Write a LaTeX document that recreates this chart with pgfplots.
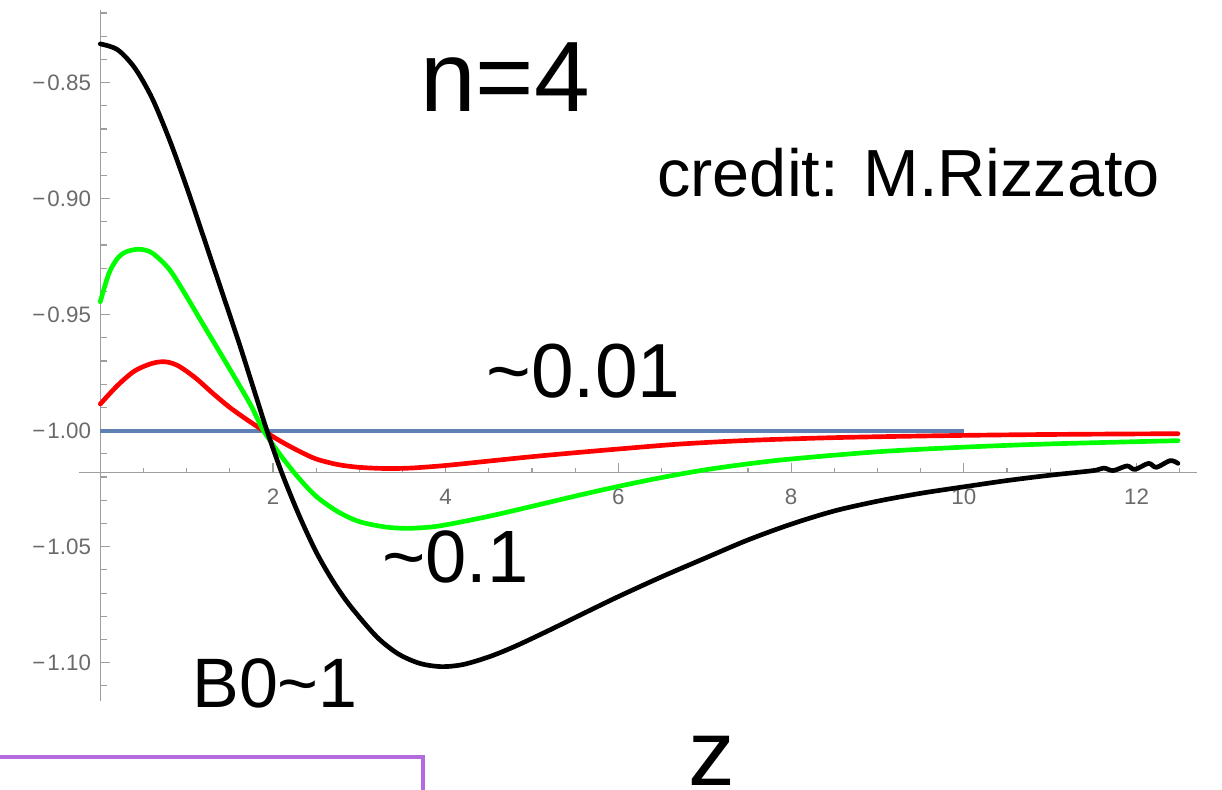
\documentclass[border=0pt]{standalone}
\usepackage{pgfplots}
\pgfplotsset{compat=1.18}
\usepackage{fontspec}
\setmainfont{Liberation Sans}

\definecolor{mmablue}{rgb}{0.368417,0.506779,0.709798}
\definecolor{axgray}{gray}{0.62}
\definecolor{lblgray}{gray}{0.42}
\definecolor{boxpurple}{RGB}{178,108,224}

\newcommand{\mminus}{−\kern1.2pt}

\begin{document}
\begin{tikzpicture}[x=0.6pt,y=0.6pt]
\path[use as bounding box] (0,0) rectangle (1222,790);
\begin{axis}[
  at={(47.226pt,53.412pt)}, anchor=south west,
  scale only axis, width=671.22pt, height=414.84pt,
  xmin=-0.25, xmax=12.705, ymin=-1.1165, ymax=-0.8185,
  axis lines=none, clip=false,
  every axis plot/.append style={line width=2.8pt, line join=round, line cap=round},
]
% axis lines crossing at (0,-1.0181)
\draw[axgray, line width=0.8pt] (axis cs:-0.25,-1.0181) -- (axis cs:12.705,-1.0181);
\draw[axgray, line width=0.8pt] (axis cs:0,-1.1165) -- (axis cs:0,-0.8185);
% x ticks
\pgfplotsinvokeforeach{0.5,1,1.5,2.5,3,3.5,4.5,5,5.5,6.5,7,7.5,8.5,9,9.5,10.5,11,11.5,12.5}{
  \draw[axgray, line width=0.7pt] (axis cs:#1,-1.0181) -- ++(0pt,3pt);
}
\pgfplotsinvokeforeach{2,4,6,8,10,12}{
  \draw[axgray, line width=0.7pt] (axis cs:#1,-1.0181) -- ++(0pt,6pt);
  \node[lblgray, anchor=base, inner sep=0pt, font=\fontsize{13.4}{14}\selectfont]
    at (axis cs:#1,-1.0181) [yshift=-19.2pt] {#1};
}
% y ticks
\pgfplotsinvokeforeach{-0.82,-0.83,-0.84,-0.86,-0.87,-0.88,-0.89,-0.91,-0.92,-0.93,-0.94,-0.96,-0.97,-0.98,-0.99,-1.01,-1.02,-1.03,-1.04,-1.06,-1.07,-1.08,-1.09,-1.11}{
  \draw[axgray, line width=0.7pt] (axis cs:0,#1) -- ++(4pt,0pt);
}
\pgfplotsinvokeforeach{-0.85,-0.90,-0.95,-1.00,-1.05,-1.10}{
  \draw[axgray, line width=0.7pt] (axis cs:0,#1) -- ++(6pt,0pt);
}
\begin{scope}[every node/.style={lblgray, anchor=base east, inner sep=0pt, font=\fontsize{13.4}{14}\selectfont}]
\node at (axis cs:0,-0.85) [xshift=-5.4pt, yshift=-4.7pt] {\mminus0.85};
\node at (axis cs:0,-0.90) [xshift=-5.4pt, yshift=-4.7pt] {\mminus0.90};
\node at (axis cs:0,-0.95) [xshift=-5.4pt, yshift=-4.7pt] {\mminus0.95};
\node at (axis cs:0,-1.00) [xshift=-5.4pt, yshift=-4.7pt] {\mminus1.00};
\node at (axis cs:0,-1.05) [xshift=-5.4pt, yshift=-4.7pt] {\mminus1.05};
\node at (axis cs:0,-1.10) [xshift=-5.4pt, yshift=-4.7pt] {\mminus1.10};
\end{scope}

% reference level
\addplot[mmablue, line width=2.6pt, line cap=butt] coordinates {(0,-1) (10,-1)};

% B0 ~ 0.01
\addplot[red, smooth] coordinates {
(0.00,-0.9885) (0.20,-0.9805) (0.40,-0.9742) (0.60,-0.9710) (0.75,-0.9703)
(0.90,-0.9720) (1.10,-0.9772) (1.30,-0.9838) (1.50,-0.9900) (1.70,-0.9953)
(1.89,-1.0000) (2.10,-1.0048) (2.30,-1.0088) (2.50,-1.0122) (2.75,-1.0146)
(3.00,-1.0158) (3.30,-1.0163) (3.60,-1.0161) (4.00,-1.0150) (4.50,-1.0131)
(5.00,-1.0112) (5.50,-1.0095) (6.00,-1.0079) (6.70,-1.0058) (7.50,-1.0042)
(8.50,-1.0030) (9.50,-1.0023) (10.50,-1.0018) (11.50,-1.0015) (12.48,-1.0013)
};

% B0 ~ 0.1
\addplot[green, smooth] coordinates {
(0.00,-0.9444) (0.10,-0.9322) (0.20,-0.9257) (0.30,-0.9229) (0.45,-0.9218)
(0.60,-0.9234) (0.80,-0.9305) (1.00,-0.9422) (1.20,-0.9548) (1.40,-0.9672)
(1.60,-0.9798) (1.75,-0.9895) (1.89,-1.0000) (2.10,-1.0112) (2.30,-1.0205)
(2.50,-1.0283) (2.75,-1.0349) (3.00,-1.0392) (3.30,-1.0415) (3.55,-1.0421)
(3.80,-1.0416) (4.00,-1.0406) (4.50,-1.0369) (5.00,-1.0326) (5.50,-1.0282)
(6.00,-1.0240) (6.50,-1.0202) (7.00,-1.0169) (7.50,-1.0143) (8.00,-1.0122)
(9.00,-1.0091) (10.00,-1.0071) (11.00,-1.0057) (12.48,-1.0043)
};

% B0 ~ 1
\addplot[black, smooth] coordinates {
(0.00,-0.8333) (0.20,-0.8358) (0.40,-0.8437) (0.60,-0.8567) (0.80,-0.8745)
(1.00,-0.8950) (1.20,-0.9170) (1.40,-0.9392) (1.60,-0.9614) (1.80,-0.9848)
(1.93,-1.0000) (2.10,-1.0180) (2.30,-1.0363) (2.50,-1.0523) (2.70,-1.0652)
(2.90,-1.0758) (3.20,-1.0888) (3.45,-1.0962) (3.70,-1.1003) (3.95,-1.1017)
(4.20,-1.1008) (4.50,-1.0975) (4.80,-1.0930) (5.20,-1.0860) (5.60,-1.0787)
(6.00,-1.0715) (6.50,-1.0630) (7.00,-1.0550) (7.50,-1.0471) (8.00,-1.0403)
(8.50,-1.0346) (9.00,-1.0304) (9.50,-1.0270) (10.00,-1.0242) (10.50,-1.0215)
(11.00,-1.0192) (11.50,-1.0172) (11.62,-1.0161) (11.73,-1.0172) (11.89,-1.0152)
(11.98,-1.0167) (12.14,-1.0141) (12.23,-1.0158) (12.39,-1.0129) (12.48,-1.0141)
};
\end{axis}

% annotations
\node[anchor=base west, inner sep=0pt, font=\fontsize{60}{64}\selectfont] at (420,678) {n=4};
\node[anchor=base west, inner sep=0pt, font=\fontsize{40}{44}\selectfont] at (657,593) {credit: M.Rizzato};
\node[anchor=base west, inner sep=0pt, font=\fontsize{46}{50}\selectfont] at (486,392) {\textasciitilde0.01};
\node[anchor=base west, inner sep=0pt, font=\fontsize{44.5}{48}\selectfont] at (382,207) {\textasciitilde0.1};
\node[anchor=base west, inner sep=0pt, font=\fontsize{42}{46}\selectfont] at (192,82) {B0\textasciitilde1};
\node[anchor=base west, inner sep=0pt, font=\fontsize{56}{60}\selectfont] at (688,4) {z};

% frame edge at the bottom
\draw[boxpurple, line width=2.6pt] (-5,33) -- (423,33) -- (423,-5);
\end{tikzpicture}
\end{document}
